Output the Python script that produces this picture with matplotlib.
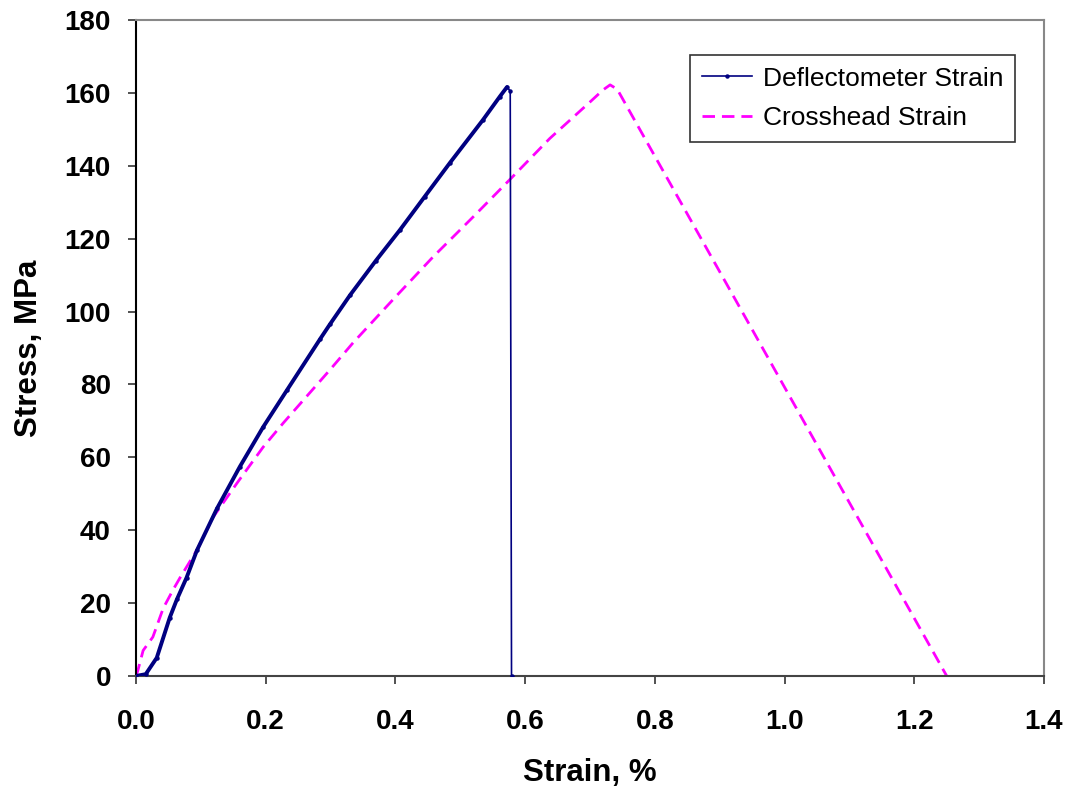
import matplotlib
matplotlib.use("Agg")
import matplotlib.pyplot as plt
from matplotlib.ticker import FormatStrFormatter

# Deflectometer strain series (strain %, stress MPa)
defl_strain = [0.0, 0.015, 0.032, 0.052, 0.063, 0.078, 0.094, 0.125, 0.160, 0.196,
               0.233, 0.284, 0.299, 0.330, 0.370, 0.407, 0.445, 0.484, 0.535,
               0.561, 0.572, 0.577, 0.579]
defl_stress = [0.0, 0.5, 5.0, 16.0, 21.0, 27.0, 34.5, 46.0, 57.4, 68.3,
               78.5, 92.5, 96.5, 104.5, 114.0, 122.4, 131.5, 140.8, 152.6,
               159.0, 161.6, 160.5, 0.0]

# Crosshead strain series
cross_strain = [0.0, 0.003, 0.011, 0.026, 0.042, 0.057, 0.068, 0.094, 0.119, 0.156,
                0.196, 0.227, 0.299, 0.335, 0.400, 0.458, 0.520, 0.578, 0.638,
                0.700, 0.720, 0.731, 0.742, 1.250]
cross_stress = [0.0, 1.6, 7.0, 10.7, 18.6, 23.6, 27.0, 34.6, 43.6, 53.0,
                62.8, 69.4, 84.0, 91.5, 104.0, 115.0, 126.0, 136.5, 147.5,
                157.5, 160.8, 162.2, 161.0, 0.0]

x_ticks = [0.0, 0.2, 0.4, 0.6, 0.8, 1.0, 1.2, 1.4]
y_ticks = [0, 20, 40, 60, 80, 100, 120, 140, 160, 180]

plt.rcParams['font.family'] = ['Liberation Sans', 'DejaVu Sans']

fig = plt.figure(figsize=(10.71, 7.93), dpi=100)
ax = fig.add_axes([136 / 1071, 1 - 676 / 793, (1044 - 136) / 1071, (676 - 20) / 793])

navy = '#000080'
magenta = '#FF00FF'

# rising portion drawn heavier (dense markers in the original)
n_rise = len(defl_strain) - 2
ax.plot(defl_strain[:n_rise], defl_stress[:n_rise], color=navy, lw=2.8,
        solid_capstyle='round', solid_joinstyle='round', zorder=3)
ax.plot(defl_strain, defl_stress, color=navy, lw=1.2, marker='o', ms=2.2,
        label='Deflectometer Strain', zorder=3)
ax.plot(cross_strain, cross_stress, color=magenta, lw=2.0,
        linestyle=(0, (4.5, 2.5)), label='Crosshead Strain', zorder=2)

ax.set_xlim(0, 1.4)
ax.set_ylim(0, 180)
ax.set_xticks(x_ticks)
ax.set_yticks(y_ticks)
ax.xaxis.set_major_formatter(FormatStrFormatter('%.1f'))

for lab in ax.get_xticklabels() + ax.get_yticklabels():
    lab.set_fontweight('bold')
ax.tick_params(axis='both', direction='out', length=6, width=1.2, labelsize=20,
               color='#333333')
ax.tick_params(axis='x', pad=18)
ax.tick_params(axis='y', pad=12)

ax.spines['left'].set_color('#000000')
ax.spines['bottom'].set_color('#444444')
ax.spines['top'].set_color('#888888')
ax.spines['right'].set_color('#888888')
for s in ax.spines.values():
    s.set_linewidth(1.5)

ax.set_xlabel('Strain, %', fontsize=22.5, fontweight='bold', labelpad=16)
ax.set_ylabel('Stress, MPa', fontsize=22.5, fontweight='bold', labelpad=15)

leg = ax.legend(loc='upper right', bbox_to_anchor=(0.968, 0.947), borderaxespad=0,
                fontsize=19, handlelength=1.9, handletextpad=0.4,
                borderpad=0.45, labelspacing=0.6, fancybox=False, frameon=True)
leg.get_frame().set_edgecolor('#000000')
leg.get_frame().set_linewidth(1.2)

fig.savefig('out.png', dpi=100)
